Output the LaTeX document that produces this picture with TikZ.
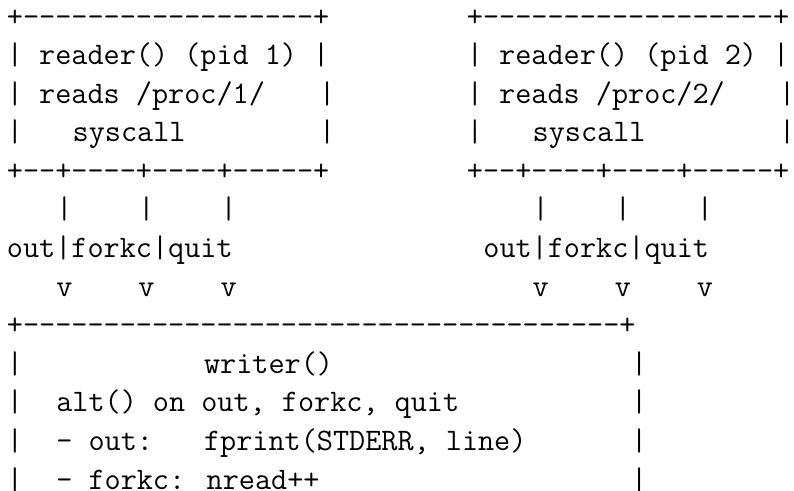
\documentclass[tikz,border=0pt]{standalone}
\usepackage{tikz}

\begin{document}
\begin{tikzpicture}[x=16.43bp,y=-38.6bp,
    ascii/.style={font=\fontsize{31.3bp}{38.6bp}\selectfont\ttfamily, inner sep=0pt, anchor=base west}]
  \useasboundingbox (-0.414,0.326) rectangle (47.92,13.046);
  % the two readers and their channels
  \foreach \b/\c/\a in {1/0/3,2/28/32} {
    \node[ascii] (top\b) at (\c,1) {+------------------+};
    \node[ascii] (name\b) at (\c,2) {| reader() (pid \b) |};
    \node[ascii] (proc\b) at (\c,3) {| reads /proc/\b/};
    \node[ascii] (procr\b) at (\c+19,3) {|};
    \node[ascii] (sysl\b) at (\c,4) {|};
    \node[ascii] (sys\b) at (\c+4,4) {syscall};
    \node[ascii] (sysr\b) at (\c+19,4) {|};
    \node[ascii] (base\b) at (\c,5) {+--+----+----+-----+};
    \node[ascii] (chans\b) at (\a-3,7) {out|forkc|quit};
    \foreach \ch/\d in {out/0,forkc/5,quit/10} {
      \node[ascii] (\ch stem\b) at (\a+\d,6) {|};
      \node[ascii] (\ch tip\b) at (\a+\d,8) {v};
    }
  }
  % writer box
  \node[ascii] (wtop) at (0,9) {+-------------------------------------+};
  \foreach \r in {10,...,13} {
    \node[ascii] (wl\r) at (0,\r) {|};
    \node[ascii] (wr\r) at (38,\r) {|};
  }
  \node[ascii] (wname) at (12,10) {writer()};
  \node[ascii] (walt) at (3,11) {alt() on out, forkc, quit};
  \node[ascii] (wout) at (3,12) {- out:};
  \node[ascii] (wprint) at (12,12) {fprint(STDERR, line)};
  \node[ascii] (wfork) at (3,13) {- forkc: nread++};
\end{tikzpicture}
\end{document}
